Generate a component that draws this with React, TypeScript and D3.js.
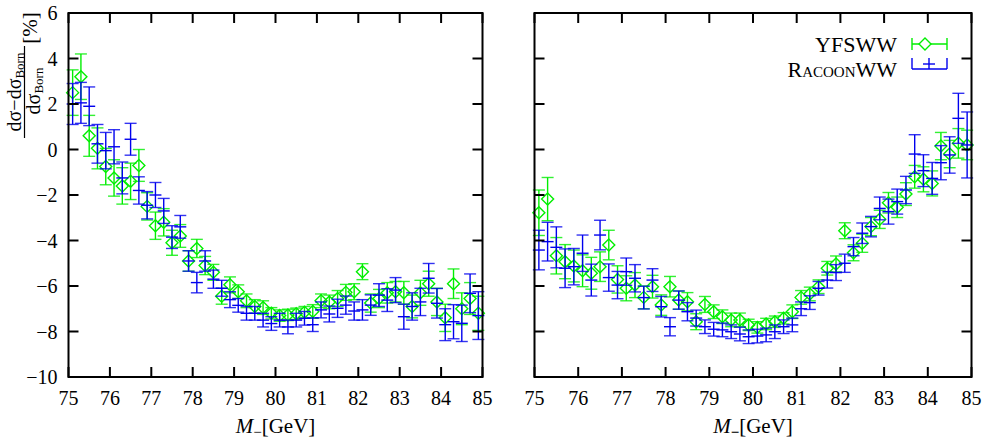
import React from "react";
import * as d3 from "d3";

// Bin centres of the M_- distribution (GeV)
const massBins = [
  75.1, 75.3, 75.5, 75.7, 75.9, 76.1, 76.3, 76.5, 76.7, 76.9,
  77.1, 77.3, 77.5, 77.7, 77.9, 78.1, 78.3, 78.5, 78.7, 78.9,
  79.1, 79.3, 79.5, 79.7, 79.9, 80.1, 80.3, 80.5, 80.7, 80.9,
  81.1, 81.3, 81.5, 81.7, 81.9, 82.1, 82.3, 82.5, 82.7, 82.9,
  83.1, 83.3, 83.5, 83.7, 83.9, 84.1, 84.3, 84.5, 84.7, 84.9,
];

// Left panel, YFSWW: relative correction [%] and its error
const leftYfsValues = [
  2.5, 3.2, 0.6, 0.05, -0.75, -1.25, -1.6, -1.4, -0.7, -2.5,
  -3.35, -3.2, -4.1, -3.8, -4.9, -4.35, -5.1, -5.4, -6.45, -5.95,
  -6.25, -6.65, -6.9, -6.95, -7.2, -7.3, -7.27, -7.22, -7.15, -7.12,
  -6.65, -6.7, -6.55, -6.28, -6.25, -5.37, -6.75, -6.55, -6.3, -6.25,
  -6.3, -6.9, -6.3, -5.9, -6.7, -7.4, -5.9, -7.0, -6.55, -7.2,
];
const leftYfsErrors = [
  1.0, 1.0, 0.9, 0.9, 0.8, 0.8, 0.8, 0.8, 0.7, 0.6,
  0.6, 0.6, 0.55, 0.5, 0.45, 0.4, 0.4, 0.35, 0.35, 0.35,
  0.3, 0.3, 0.3, 0.3, 0.25, 0.25, 0.25, 0.25, 0.25, 0.3,
  0.3, 0.3, 0.35, 0.35, 0.35, 0.35, 0.4, 0.4, 0.45, 0.45,
  0.5, 0.5, 0.55, 0.55, 0.6, 0.6, 0.65, 0.7, 0.7, 0.75,
];

// Left panel, RacoonWW
const leftRacoonValues = [
  2.0, 2.05, 1.9, 0.25, -0.05, 0.12, -1.25, 0.45, -1.8, -2.45,
  -2.0, -2.7, -3.85, -3.4, -4.9, -5.85, -4.9, -5.7, -6.1, -6.6,
  -6.85, -7.2, -7.2, -7.5, -7.65, -7.5, -7.8, -7.5, -7.42, -7.7,
  -7.05, -7.23, -6.98, -6.84, -7.1, -7.05, -6.84, -6.4, -6.62, -6.18,
  -7.35, -6.9, -6.7, -5.66, -6.76, -7.7, -7.57, -7.64, -6.32, -7.3,
];
const leftRacoonErrors = [
  0.9, 0.9, 0.85, 0.85, 0.8, 0.75, 0.7, 0.7, 0.6, 0.6,
  0.55, 0.55, 0.5, 0.5, 0.45, 0.45, 0.45, 0.4, 0.35, 0.35,
  0.3, 0.3, 0.3, 0.3, 0.3, 0.3, 0.3, 0.3, 0.3, 0.3,
  0.35, 0.35, 0.4, 0.4, 0.4, 0.45, 0.45, 0.5, 0.5, 0.55,
  0.55, 0.6, 0.6, 0.65, 0.65, 0.7, 0.75, 0.8, 0.85, 1.05,
];

// Right panel, YFSWW
const rightYfsValues = [
  -2.78, -2.18, -4.67, -4.93, -5.12, -5.33, -5.44, -5.15, -4.2, -5.71,
  -6.1, -5.96, -6.5, -6.03, -6.84, -6.03, -6.62, -6.69, -7.57, -6.81,
  -7.13, -7.35, -7.49, -7.49, -7.71, -7.82, -7.67, -7.57, -7.42, -7.13,
  -6.5, -6.35, -6.03, -5.22, -5.03, -3.57, -4.54, -4.12, -3.39, -3.07,
  -2.34, -2.54, -1.96, -1.2, -1.31, -1.49, 0.15, -0.2, 0.27, 0.2,
];
const rightYfsErrors = [
  1.0, 0.95, 0.8, 0.75, 0.7, 0.7, 0.7, 0.65, 0.65, 0.6,
  0.55, 0.55, 0.5, 0.5, 0.45, 0.45, 0.4, 0.4, 0.35, 0.35,
  0.3, 0.3, 0.3, 0.3, 0.25, 0.25, 0.25, 0.25, 0.25, 0.3,
  0.3, 0.3, 0.3, 0.3, 0.35, 0.35, 0.35, 0.4, 0.4, 0.4,
  0.45, 0.45, 0.5, 0.5, 0.55, 0.55, 0.6, 0.6, 0.65, 0.65,
];

// Right panel, RacoonWW
const rightRacoonValues = [
  -4.42, -4.05, -4.3, -5.22, -5.15, -4.56, -5.74, -3.76, -5.63, -5.96,
  -5.37, -5.66, -6.51, -5.74, -6.91, -7.79, -6.62, -7.13, -7.41, -7.79,
  -7.9, -7.93, -8.01, -8.11, -8.23, -8.2, -8.15, -8.01, -7.79, -7.71,
  -7.0, -6.73, -6.1, -5.74, -5.41, -5.0, -4.27, -3.68, -3.39, -2.59,
  -2.73, -2.29, -1.78, -0.2, -0.93, -1.27, -0.58, -0.24, 1.37, 0.2,
];
const rightRacoonErrors = [
  0.87, 0.85, 0.9, 0.85, 0.8, 0.8, 0.7, 0.65, 0.6, 0.6,
  0.6, 0.6, 0.5, 0.5, 0.45, 0.4, 0.4, 0.4, 0.35, 0.3,
  0.3, 0.3, 0.3, 0.3, 0.3, 0.3, 0.3, 0.3, 0.3, 0.3,
  0.3, 0.3, 0.3, 0.35, 0.35, 0.4, 0.4, 0.45, 0.45, 0.5,
  0.55, 0.55, 0.6, 0.85, 0.7, 0.7, 0.75, 0.8, 1.1, 1.45,
];

const xTicks = [75, 76, 77, 78, 79, 80, 81, 82, 83, 84, 85];
const yTicks = [-10, -8, -6, -4, -2, 0, 2, 4, 6];

const GREEN = "#00ee00";
const BLUE = "#0000ee";
const FONT = "'Liberation Serif', 'DejaVu Serif', serif";

const W = 985;
const H = 445;
const TOP = 13;
const BOTTOM = 377;
const TICK = 10;
const CAP = 6;

const y = d3.scaleLinear().domain([-10, 6]).range([BOTTOM, TOP]);

type Series = { values: number[]; errors: number[]; color: string; marker: "diamond" | "plus" };

function ErrorPoints({ x, s }: { x: d3.ScaleLinear<number, number>; s: Series }) {
  return (
    <g stroke={s.color} fill="none" strokeWidth={1.4}>
      {massBins.map((m, i) => {
        const cx = x(m);
        const cy = y(s.values[i]);
        const yt = y(s.values[i] + s.errors[i]);
        const yb = y(s.values[i] - s.errors[i]);
        return (
          <g key={i}>
            <line x1={cx} x2={cx} y1={yt} y2={yb} />
            <line x1={cx - CAP} x2={cx + CAP} y1={yt} y2={yt} strokeOpacity={0.8} />
            <line x1={cx - CAP} x2={cx + CAP} y1={yb} y2={yb} strokeOpacity={0.8} />
            {s.marker === "diamond" ? (
              <path d={`M${cx},${cy - 6}L${cx + 6},${cy}L${cx},${cy + 6}L${cx - 6},${cy}Z`} />
            ) : (
              <line x1={cx - 6} x2={cx + 6} y1={cy} y2={cy} />
            )}
          </g>
        );
      })}
    </g>
  );
}

function Panel({
  x,
  yfs,
  racoon,
  showYLabels,
  boldSub,
}: {
  x: d3.ScaleLinear<number, number>;
  yfs: Series;
  racoon: Series;
  showYLabels: boolean;
  boldSub: boolean;
}) {
  const [x0, x1] = x.range();
  const mid = (x0 + x1) / 2;
  return (
    <g>
      <ErrorPoints x={x} s={yfs} />
      <ErrorPoints x={x} s={racoon} />
      <g stroke="#000" strokeWidth={2}>
        <rect x={x0} y={TOP} width={x1 - x0} height={BOTTOM - TOP} fill="none" />
        {xTicks.map((t) => (
          <g key={t}>
            <line x1={x(t)} x2={x(t)} y1={BOTTOM} y2={BOTTOM - TICK} />
            <line x1={x(t)} x2={x(t)} y1={TOP} y2={TOP + TICK} />
          </g>
        ))}
        {yTicks.map((t) => (
          <g key={t}>
            <line x1={x0} x2={x0 + TICK} y1={y(t)} y2={y(t)} />
            <line x1={x1} x2={x1 - TICK} y1={y(t)} y2={y(t)} />
          </g>
        ))}
      </g>
      <g fontFamily={FONT} fontSize={20} fill="#000" textAnchor="middle">
        {xTicks.map((t) => (
          <text key={t} x={x(t)} y={405}>
            {t}
          </text>
        ))}
      </g>
      {showYLabels && (
        <g fontFamily={FONT} fontSize={20} fill="#000" textAnchor="end">
          {yTicks.map((t) => (
            <text key={t} x={x0 - 11} y={y(t) + 7}>
              {t < 0 ? "\u2212" + Math.abs(t) : t}
            </text>
          ))}
        </g>
      )}
      <text x={mid} y={433} fontFamily={FONT} fontSize={21} textAnchor="middle" fill="#000">
        <tspan fontStyle="italic">M</tspan>
        <tspan dy={4} fontSize={15} fontWeight={boldSub ? "bold" : "normal"}>
          {"\u2212"}
        </tspan>
        <tspan dy={-4}>[GeV]</tspan>
      </text>
    </g>
  );
}

export default function App() {
  const xLeft = d3.scaleLinear().domain([75, 85]).range([68.5, 482.5]);
  const xRight = d3.scaleLinear().domain([75, 85]).range([534.5, 971.5]);

  return (
    <svg
      width={W}
      height={H}
      viewBox={`0 0 ${W} ${H}`}
      style={{ position: "absolute", left: 0, top: 0, background: "#fff" }}
    >
      <Panel
        x={xLeft}
        yfs={{ values: leftYfsValues, errors: leftYfsErrors, color: GREEN, marker: "diamond" }}
        racoon={{ values: leftRacoonValues, errors: leftRacoonErrors, color: BLUE, marker: "plus" }}
        showYLabels
        boldSub={false}
      />
      <Panel
        x={xRight}
        yfs={{ values: rightYfsValues, errors: rightYfsErrors, color: GREEN, marker: "diamond" }}
        racoon={{ values: rightRacoonValues, errors: rightRacoonErrors, color: BLUE, marker: "plus" }}
        showYLabels={false}
        boldSub
      />

      {/* Legend */}
      <g fontFamily={FONT} fontSize={22} fill="#000" textAnchor="end">
        <text x={897} y={52}>YFSWW</text>
        <text x={897} y={77} style={{ fontVariant: "small-caps" }}>
          RacoonWW
        </text>
      </g>
      <g fill="none" strokeWidth={1.4}>
        <g stroke={GREEN}>
          <line x1={912} x2={947} y1={44} y2={44} />
          <line x1={912} x2={912} y1={38} y2={50} />
          <line x1={947} x2={947} y1={38} y2={50} />
          <path d={`M925,38L931,44L925,50L919,44Z`} fill="#fff" />
        </g>
        <g stroke={BLUE}>
          <line x1={912} x2={947} y1={69} y2={69} />
          <line x1={912} x2={912} y1={58} y2={69} />
          <line x1={947} x2={947} y1={58} y2={69} />
          <line x1={923} x2={935} y1={64} y2={64} />
          <line x1={929} x2={929} y1={58} y2={69} />
        </g>
      </g>

      {/* Y axis title: relative deviation from the Born cross section */}
      <g transform="rotate(-90)" fontFamily={FONT} fill="#000" textAnchor="middle">
        <text x={-92} y={21} fontSize={20}>
          dσ−dσ<tspan fontSize={13} dy={3}>Born</tspan>
        </text>
        <line x1={-138} x2={-46} y1={24.5} y2={24.5} stroke="#000" strokeWidth={1.2} />
        <text x={-91} y={40} fontSize={20}>
          dσ<tspan fontSize={13} dy={3}>Born</tspan>
        </text>
        <text x={-28} y={37} fontSize={21}>
          [%]
        </text>
      </g>
    </svg>
  );
}
